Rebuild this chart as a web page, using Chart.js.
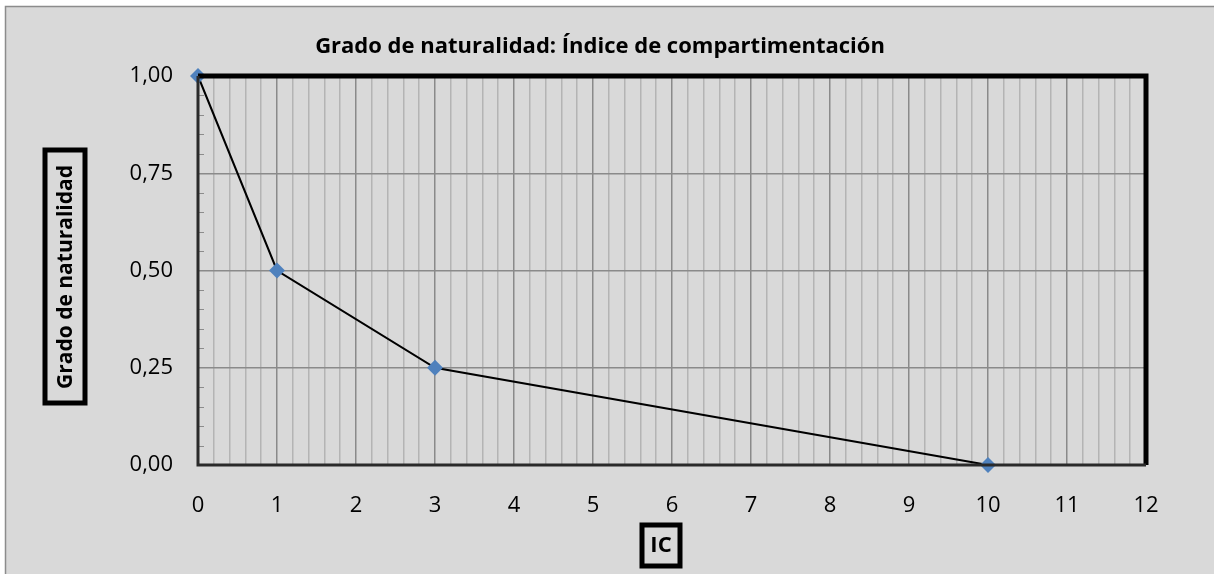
<!DOCTYPE html>
<html>
<head>
<meta charset="utf-8">
<script src="https://cdn.jsdelivr.net/npm/chart.js@4"></script>
<style>
  body { margin: 0; background: #ffffff; }
  #wrap { position: absolute; left: 0; top: 0; width: 1214px; height: 574px; }
</style>
</head>
<body>
<div id="wrap"><canvas id="grafico" width="1214" height="574"></canvas></div>
<script>
// datos
const icValores = [0, 1, 3, 10];
const gradoValores = [1, 0.5, 0.25, 0];
const titulo = "Grado de naturalidad: Índice de compartimentación";
const tituloY = "Grado de naturalidad";
const tituloX = "IC";

const fuente = "'Open Sans', 'Noto Sans', sans-serif";
const esEntero = v => Math.abs(v - Math.round(v)) < 1e-6;
const esCuarto = v => Math.abs(v * 4 - Math.round(v * 4)) < 1e-6;

// fondo, bordes y títulos con recuadro
const decoracion = {
  id: 'decoracion',
  beforeDraw(chart) {
    const c = chart.ctx;
    c.save();
    c.fillStyle = '#d9d9d9';
    c.fillRect(5, 6, chart.width - 5, chart.height - 6);
    c.strokeStyle = '#8c8c8c';
    c.lineWidth = 1.5;
    c.beginPath();
    c.moveTo(5.5, chart.height);
    c.lineTo(5.5, 6.5);
    c.lineTo(chart.width, 6.5);
    c.stroke();
    c.restore();
  },
  afterDatasetsDraw(chart) {
    const c = chart.ctx;
    const a = chart.chartArea;
    const y = chart.scales.y;
    c.save();
    // marcas menores del eje Y
    c.strokeStyle = '#8c8c8c';
    c.lineWidth = 1;
    y.ticks.forEach(t => {
      if (!esCuarto(t.value)) {
        const py = Math.round(y.getPixelForValue(t.value)) + 0.5;
        c.beginPath();
        c.moveTo(a.left, py);
        c.lineTo(a.left + 6, py);
        c.stroke();
      }
    });
    // bordes
    c.strokeStyle = '#000';
    c.lineWidth = 5;
    c.beginPath();
    c.moveTo(a.left, a.top);
    c.lineTo(a.right, a.top);
    c.lineTo(a.right, a.bottom);
    c.stroke();
    c.strokeStyle = '#2a2a2a';
    c.lineWidth = 3;
    c.beginPath();
    c.moveTo(a.left, a.top);
    c.lineTo(a.left, a.bottom);
    c.lineTo(a.right, a.bottom);
    c.stroke();
    c.restore();
  },
  afterDraw(chart) {
    const c = chart.ctx;
    c.save();
    c.fillStyle = '#000';
    c.font = "bold 22px " + fuente;
    c.textAlign = 'center';
    c.textBaseline = 'middle';
    c.fillText(titulo, 600, 47);
    // título X
    c.fillText(tituloX, 661, 546);
    c.lineWidth = 5;
    c.strokeStyle = '#000';
    c.strokeRect(642, 525, 38, 41);
    // título Y
    c.font = "bold 21px " + fuente;
    c.save();
    c.translate(65, 277);
    c.rotate(-Math.PI / 2);
    c.fillText(tituloY, 0, 1);
    c.restore();
    c.strokeRect(45, 150, 40, 253);
    c.restore();
  }
};

new Chart(document.getElementById('grafico'), {
  type: 'scatter',
  data: {
    datasets: [{
      data: icValores.map((x, i) => ({ x: x, y: gradoValores[i] })),
      showLine: true,
      borderColor: '#000',
      borderWidth: 2,
      pointStyle: 'rectRot',
      pointRadius: 8,
      pointHoverRadius: 8,
      pointBackgroundColor: '#4f81bd',
      pointBorderColor: '#4f81bd',
      pointBorderWidth: 0,
      clip: false
    }]
  },
  options: {
    responsive: false,
    animation: false,
    layout: { padding: { left: 0, top: 76, right: 68, bottom: 0 } },
    plugins: { legend: { display: false }, tooltip: { enabled: false } },
    scales: {
      x: {
        type: 'linear',
        min: 0, max: 12,
        border: { display: false },
        afterFit: s => { s.height = 109; },
        grid: {
          drawTicks: false,
          lineWidth: 1.5,
          color: ctx => esEntero(ctx.tick.value) ? '#8a8a8a' : '#b4b4b4'
        },
        ticks: {
          stepSize: 0.2,
          autoSkip: false,
          maxRotation: 0,
          padding: 28,
          color: '#000',
          font: { family: fuente, size: 22 },
          callback: v => esEntero(v) ? String(Math.round(v)) : ''
        }
      },
      y: {
        type: 'linear',
        min: 0, max: 1,
        border: { display: false },
        afterFit: s => { s.width = 198; },
        grid: {
          drawTicks: false,
          lineWidth: 1.5,
          color: ctx => esCuarto(ctx.tick.value) ? '#8a8a8a' : 'rgba(0,0,0,0)'
        },
        ticks: {
          stepSize: 0.05,
          autoSkip: false,
          padding: 25,
          color: '#000',
          font: { family: fuente, size: 22 },
          callback: v => esCuarto(v) ? v.toFixed(2).replace('.', ',') : ''
        }
      }
    }
  },
  plugins: [decoracion]
});
</script>
</body>
</html>
